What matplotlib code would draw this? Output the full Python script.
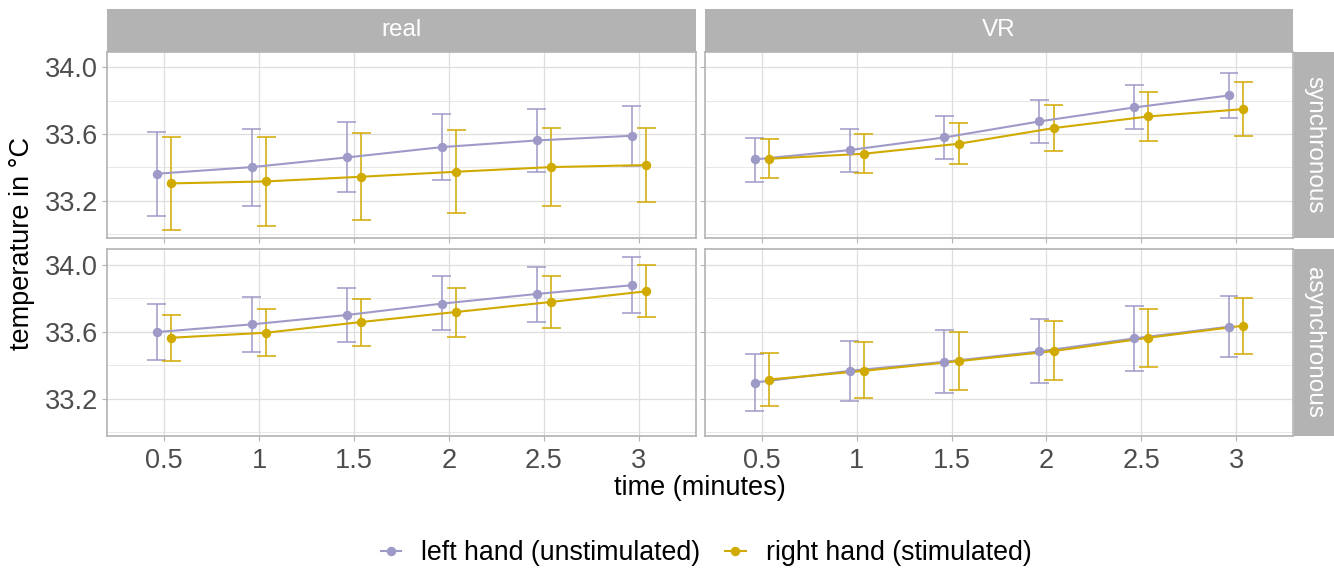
import matplotlib
matplotlib.use("Agg")
import matplotlib.pyplot as plt
from matplotlib.lines import Line2D
import numpy as np

plt.rcParams['font.family'] = ['Liberation Sans', 'DejaVu Sans']

# ---------------- data ----------------
times = ["0.5", "1", "1.5", "2", "2.5", "3"]
col_labels = ["real", "VR"]
row_labels = ["synchronous", "asynchronous"]
series_labels = ["left hand (unstimulated)", "right hand (stimulated)"]

real_sync_left_mean = [33.362, 33.402, 33.460, 33.522, 33.562, 33.590]
real_sync_left_lo = [33.110, 33.170, 33.250, 33.324, 33.374, 33.408]
real_sync_left_hi = [33.614, 33.632, 33.670, 33.718, 33.748, 33.770]
real_sync_right_mean = [33.304, 33.316, 33.344, 33.374, 33.402, 33.414]
real_sync_right_lo = [33.026, 33.048, 33.086, 33.126, 33.168, 33.194]
real_sync_right_hi = [33.584, 33.584, 33.604, 33.622, 33.636, 33.634]

vr_sync_left_mean = [33.448, 33.504, 33.580, 33.676, 33.760, 33.832]
vr_sync_left_lo = [33.314, 33.370, 33.450, 33.544, 33.628, 33.696]
vr_sync_left_hi = [33.578, 33.632, 33.710, 33.804, 33.892, 33.966]
vr_sync_right_mean = [33.452, 33.482, 33.542, 33.636, 33.706, 33.750]
vr_sync_right_lo = [33.336, 33.366, 33.418, 33.500, 33.558, 33.586]
vr_sync_right_hi = [33.568, 33.600, 33.668, 33.772, 33.854, 33.914]

real_async_left_mean = [33.598, 33.644, 33.700, 33.768, 33.826, 33.878]
real_async_left_lo = [33.430, 33.476, 33.538, 33.608, 33.660, 33.712]
real_async_left_hi = [33.766, 33.808, 33.864, 33.932, 33.990, 34.048]
real_async_right_mean = [33.564, 33.594, 33.658, 33.718, 33.778, 33.842]
real_async_right_lo = [33.422, 33.456, 33.516, 33.570, 33.622, 33.686]
real_async_right_hi = [33.700, 33.734, 33.798, 33.864, 33.934, 34.002]

vr_async_left_mean = [33.296, 33.366, 33.420, 33.482, 33.560, 33.630]
vr_async_left_lo = [33.128, 33.188, 33.234, 33.292, 33.368, 33.446]
vr_async_left_hi = [33.464, 33.544, 33.608, 33.674, 33.752, 33.814]
vr_async_right_mean = [33.314, 33.366, 33.424, 33.484, 33.564, 33.636]
vr_async_right_lo = [33.158, 33.202, 33.252, 33.310, 33.390, 33.468]
vr_async_right_hi = [33.472, 33.536, 33.598, 33.662, 33.738, 33.804]

y_ticks = [33.2, 33.6, 34.0]
y_ticklabels = ["33.2", "33.6", "34.0"]
y_minor = [33.0, 33.4, 33.8]

panels = {
    (0, 0): [(real_sync_left_mean, real_sync_left_lo, real_sync_left_hi),
             (real_sync_right_mean, real_sync_right_lo, real_sync_right_hi)],
    (0, 1): [(vr_sync_left_mean, vr_sync_left_lo, vr_sync_left_hi),
             (vr_sync_right_mean, vr_sync_right_lo, vr_sync_right_hi)],
    (1, 0): [(real_async_left_mean, real_async_left_lo, real_async_left_hi),
             (real_async_right_mean, real_async_right_lo, real_async_right_hi)],
    (1, 1): [(vr_async_left_mean, vr_async_left_lo, vr_async_left_hi),
             (vr_async_right_mean, vr_async_right_lo, vr_async_right_hi)],
}

colors = ["#9E9AC8", "#D1AA00"]
dodge = [-0.075, 0.075]
cap_half = 0.1

# ---------------- layout ----------------
W, H = 1334, 573
fig = plt.figure(figsize=(W / 100, H / 100), dpi=100)


def rect(x0, y0, x1, y1):
    return [x0 / W, 1 - y1 / H, (x1 - x0) / W, (y1 - y0) / H]


cols = [(107, 696), (705, 1293)]
rows = [(52, 237.7), (249.3, 435.7)]
border = "#B3B3B3"
grid_c = "#DEDEDE"
tick_fs = 19.5

xpos = np.arange(1, len(times) + 1)

for (r, c), series in panels.items():
    x0, x1 = cols[c]
    y0, y1 = rows[r]
    ax = fig.add_axes(rect(x0, y0, x1, y1))
    ax.set_xlim(0.4, 6.6)
    ax.set_ylim(32.978, 34.093)
    for s in ax.spines.values():
        s.set_color(border)
        s.set_linewidth(1.2)
        s.set_zorder(10)
    ax.set_xticks(xpos)
    ax.set_yticks(y_ticks)
    ax.set_yticks(y_minor, minor=True)
    ax.grid(True, which='major', color=grid_c, linewidth=0.9, zorder=0)
    ax.grid(True, which='minor', axis='y', color=grid_c, linewidth=0.5, zorder=0)
    ax.set_axisbelow(True)
    ax.tick_params(which='major', length=3.5, width=0.8, color=border,
                   labelcolor="#4D4D4D", labelsize=tick_fs)
    ax.tick_params(which='minor', length=0)
    ax.tick_params(axis='x', pad=5)
    ax.tick_params(axis='y', pad=3)
    if c == 0:
        ax.set_yticklabels(y_ticklabels)
    else:
        ax.set_yticklabels([])
    if r == 1:
        ax.set_xticklabels(times)
    else:
        ax.set_xticklabels([])

    # error bars
    for i, (mean, lo, hi) in enumerate(series):
        xs = xpos + dodge[i]
        ax.vlines(xs, lo, hi, color=colors[i], linewidth=1.1, zorder=2)
        ax.hlines(lo, xs - cap_half, xs + cap_half, color=colors[i], linewidth=1.1, zorder=2)
        ax.hlines(hi, xs - cap_half, xs + cap_half, color=colors[i], linewidth=1.1, zorder=2)
    for i, (mean, lo, hi) in enumerate(series):
        xs = xpos + dodge[i]
        ax.plot(xs, mean, color=colors[i], linewidth=1.5, zorder=3 + i)
    for i, (mean, lo, hi) in enumerate(series):
        xs = xpos + dodge[i]
        ax.plot(xs, mean, 'o', color=colors[i], markersize=6.8, markeredgewidth=0, zorder=5 + i)

# strips
for c, lab in enumerate(col_labels):
    x0, x1 = cols[c]
    sax = fig.add_axes(rect(x0, 9, x1, 52))
    sax.set_facecolor(border)
    sax.set_xticks([]); sax.set_yticks([])
    for s in sax.spines.values():
        s.set_visible(False)
    sax.text(0.5, 0.5, lab, color="white", fontsize=17.5, ha='center', va='center',
             transform=sax.transAxes)

for r, lab in enumerate(row_labels):
    y0, y1 = rows[r]
    sax = fig.add_axes(rect(1294, y0, 1334, y1))
    sax.set_facecolor(border)
    sax.set_xticks([]); sax.set_yticks([])
    for s in sax.spines.values():
        s.set_visible(False)
    sax.text(0.5, 0.5, lab, color="white", fontsize=17.5, ha='center', va='center',
             rotation=-90, transform=sax.transAxes)

# axis titles
fig.text(700 / W, 1 - 488 / H, "time (minutes)", fontsize=19.5, ha='center', va='center',
         color='black')
fig.text(22 / W, 1 - 244 / H, "temperature in °C", fontsize=19.5, ha='center', va='center',
         rotation=90, color='black')

# legend
handles = [Line2D([0], [0], color=colors[i], linewidth=1.5, marker='o', markersize=6.8,
                  markeredgewidth=0) for i in range(2)]
fig.legend(handles, series_labels, loc='center', bbox_to_anchor=(706 / W, 1 - 553 / H),
           ncol=2, frameon=False, fontsize=19.3, handlelength=0.75, handletextpad=0.75,
           columnspacing=0.95, borderpad=0, borderaxespad=0)

fig.savefig("out.png", dpi=100)
